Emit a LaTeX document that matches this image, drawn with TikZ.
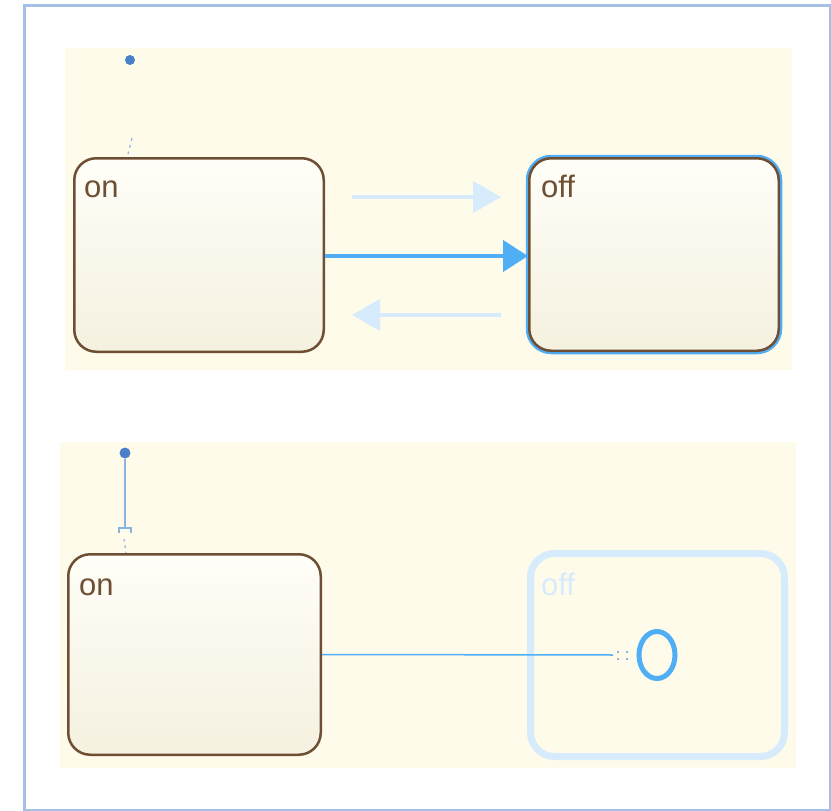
\documentclass[tikz,border=0pt]{standalone}
\usepackage{fontspec}
\setmainfont{Liberation Sans}
\usetikzlibrary{arrows.meta,shapes.geometric}
\definecolor{frameblue}{HTML}{A4C0E4}
\definecolor{panel}{HTML}{FEFBEA}
\definecolor{brown}{HTML}{6E4F33}
\definecolor{hiblue}{HTML}{4FAEF5}
\definecolor{faintblue}{HTML}{D6EBFC}
\definecolor{dotblue}{HTML}{4A80C8}
\definecolor{lineblue}{HTML}{8AB4E0}
\definecolor{sttop}{HTML}{FFFEF8}
\definecolor{stbot}{HTML}{F5F1E0}
\tikzset{
  x=1pt,y=-1pt,
  statebox/.style={draw=brown,line width=2.5pt,rounded corners=22pt,
    top color=sttop,bottom color=stbot,inner sep=0pt},
  activebox/.style={statebox,preaction={draw=hiblue,line width=7pt}},
  ghostbox/.style={draw=faintblue,line width=7pt,rounded corners=24pt,fill=panel,inner sep=0pt},
  lbl/.style={anchor=base west,inner sep=0pt,font=\fontsize{31}{31}\selectfont,text=brown},
  defdot/.style={circle,fill=dotblue,inner sep=0pt,minimum size=10pt},
  faintarrow/.style={draw=faintblue,line width=4pt,-{Triangle[length=28pt,width=31pt]}},
  strongarrow/.style={draw=hiblue,line width=4pt,-{Triangle[length=25pt,width=31pt]}},
}
\begin{document}
\begin{tikzpicture}
\useasboundingbox (0,0) rectangle (831,811);
\fill[white] (0,0) rectangle (831,811);
\draw[frameblue,line width=2.5pt] (24.5,5.5) rectangle (830,810);
% panels
\fill[panel] (65,48) rectangle (792,370);
\fill[panel] (60,442) rectangle (796,768);

% ---- top chart ----
\node[statebox,minimum width=249.5pt,minimum height=193.5pt] (on1) at (199,255) {};
\node[activebox,minimum width=249.5pt,minimum height=192.5pt] (off1) at (654,254.5) {};
\node[lbl] (on1t) at (84,197) {on};
\node[lbl] (off1t) at (541,197) {off};
\node[defdot] (d1) at (130,60) {};
\coordinate (d1a) at (132,138);
\coordinate (d1b) at (128,154);
\draw[lineblue,line width=1.2pt,dash pattern=on 3pt off 4pt] (d1a) -- (d1b);

\coordinate (fa1) at (352,197);
\coordinate (fa2) at (501,197);
\coordinate (fb1) at (501,315);
\coordinate (fb2) at (352,315);
\draw[faintarrow] (fa1) -- (fa2);
\draw[faintarrow] (fb1) -- (fb2);
\draw[strongarrow] (on1.east |- 0,256) -- (off1.west |- 0,256);

% ---- bottom chart ----
\node[statebox,minimum width=252.5pt,minimum height=200.5pt] (on2) at (194.5,654.5) {};
\node[ghostbox,minimum width=254pt,minimum height=203pt] (off2) at (657.5,655) {};
\node[lbl] (on2t) at (79,595) {on};
\node[lbl,text=faintblue] (off2t) at (541,595) {off};
\node[defdot,minimum size=11pt] (d2) at (125,453) {};
\coordinate (br) at (125,528);
\draw[lineblue,line width=1.5pt] (d2) -- (br);
\draw[lineblue,line width=1.5pt] (119,533) -- (119,528) -- (131,528) -- (131,533);
\coordinate (d2a) at (124,539);
\coordinate (d2b) at (126,553);
\draw[lineblue,line width=1.2pt,dash pattern=on 2.5pt off 4pt] (d2a) -- (d2b);

\node[ellipse,draw=hiblue,line width=5pt,minimum width=36pt,minimum height=47pt,inner sep=0pt] (junc) at (657,655) {};
\coordinate (j) at (613,655);
\draw[hiblue,line width=1.5pt] (on2.east) -- (j);
\draw[lineblue,line width=1.2pt,dash pattern=on 2pt off 3pt] (617,652) -- (622,652);
\draw[lineblue,line width=1.2pt,dash pattern=on 2pt off 3pt] (617,659) -- (622,659);
\draw[lineblue,line width=1.2pt,dash pattern=on 2pt off 3pt] (626,652) -- (630,652);
\draw[lineblue,line width=1.2pt,dash pattern=on 2pt off 3pt] (626,659) -- (630,659);
\end{tikzpicture}
\end{document}
